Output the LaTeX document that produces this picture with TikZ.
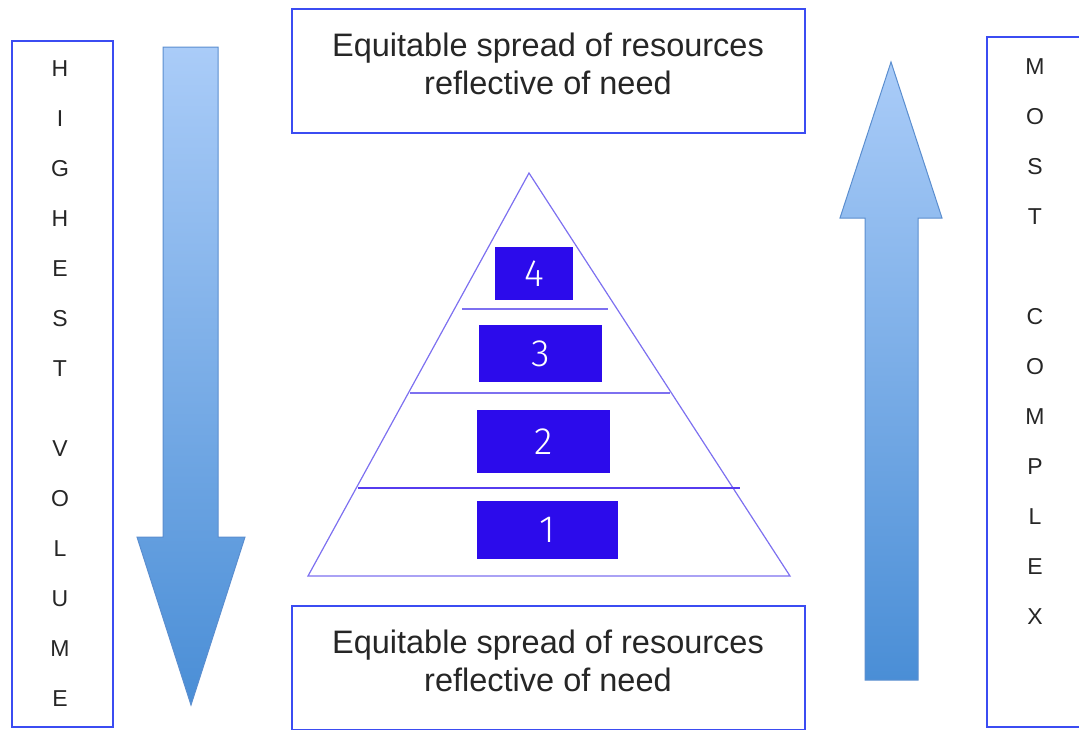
\documentclass[tikz,border=0pt]{standalone}
\usepackage{fontspec}
\setmainfont{Liberation Sans}
\newfontfamily\numfont{Fira Sans Light}
\definecolor{framecol}{HTML}{3B4CF2}
\definecolor{pyrcol}{HTML}{7D70F0}
\definecolor{levelcol}{HTML}{2C0BEB}
\definecolor{arrowtop}{HTML}{AACCF8}
\definecolor{arrowbot}{HTML}{4A8ED6}
\definecolor{arrowedge}{HTML}{5B8ECF}
\begin{document}
\begin{tikzpicture}[
    x=1pt, y=-1pt,
    every node/.style={inner sep=0pt, outer sep=0pt},
    frame/.style={draw=framecol, line width=1.2pt, fill=white},
    saytext/.style={font=\fontsize{32.5}{38}\selectfont, align=center, text=black!85},
    column/.style={font=\fontsize{23}{50}\selectfont, align=center, text=black!85},
    level/.style={fill=levelcol, text=white, font=\numfont\fontsize{38}{38}\selectfont},
    flow/.style={draw=arrowedge, line width=1pt, top color=arrowtop, bottom color=arrowbot}
]
    \useasboundingbox (0,0) rectangle (1079,729);

    % Side boxes
    \node[frame, minimum width=101pt, minimum height=686pt] (volbox) at (62.5,384) {};
    \node[column, anchor=north] (voltext) at (60,61)
        {H\\I\\G\\H\\E\\S\\T\\[30pt]V\\O\\L\\U\\M\\E};
    \node[frame, minimum width=100pt, minimum height=690pt] (cplxbox) at (1037,382) {};
    \node[column, anchor=north] (cplxtext) at (1035,59)
        {M\\O\\S\\T\\ \\C\\O\\M\\P\\L\\E\\X};

    % Top and bottom boxes
    \node[frame, minimum width=513pt, minimum height=124pt] (topbox) at (548.5,71) {};
    \node[saytext] (toptext) at (548,64) {Equitable spread of resources\\reflective of need};
    \node[frame, minimum width=513pt, minimum height=124pt] (botbox) at (548.5,668) {};
    \node[saytext] (bottext) at (548,661) {Equitable spread of resources\\reflective of need};

    % Arrows
    \path[flow] (163,47) -- (218,47) -- (218,537) -- (245,537) -- (191,705)
        -- (137,537) -- (163,537) -- cycle;
    \path[flow] (891,62) -- (942,218) -- (918,218) -- (918,680) -- (865,680)
        -- (865,218) -- (840,218) -- cycle;

    % Pyramid
    \coordinate (apex) at (529,173);
    \coordinate (baseL) at (308,576);
    \coordinate (baseR) at (790,576);
    \draw[pyrcol, line width=1.2pt] (apex) -- (baseR) -- (baseL) -- cycle;
    \coordinate (cut3L) at (462,309);
    \coordinate (cut3R) at (608,309);
    \coordinate (cut2L) at (410,393);
    \coordinate (cut2R) at (670,393);
    \coordinate (cut1L) at (358,488);
    \coordinate (cut1R) at (740,488);
    \draw[pyrcol, line width=1.4pt] (cut3L) -- (cut3R);
    \draw[pyrcol, line width=1.4pt] (cut2L) -- (cut2R);
    \draw[levelcol!80, line width=1.2pt] (cut1L) -- (cut1R);

    % Levels
    \node[level, minimum width=78pt, minimum height=53pt] (lvl4) at (534,273.5) {4};
    \node[level, minimum width=123pt, minimum height=57pt] (lvl3) at (540.5,353.5) {3};
    \node[level, minimum width=133pt, minimum height=63pt] (lvl2) at (543.5,441.5) {2};
    \node[level, minimum width=141pt, minimum height=58pt] (lvl1) at (547.5,530) {1};
\end{tikzpicture}
\end{document}
